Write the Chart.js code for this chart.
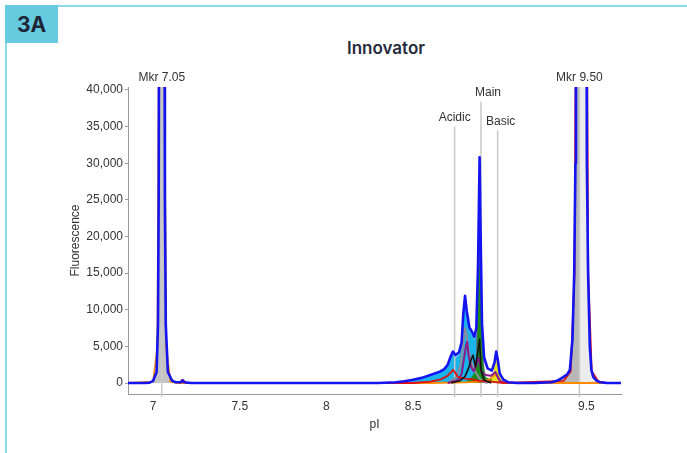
<!DOCTYPE html>
<html>
<head>
<meta charset="utf-8">
<script src="https://cdn.jsdelivr.net/npm/chart.js@4.4.0/dist/chart.umd.min.js"></script>
<style>
  html, body { margin: 0; padding: 0; background: #fff; }
  #wrap { position: relative; width: 687px; height: 453px; overflow: hidden; }
  #badge {
    position: absolute; left: 5px; top: 5px; width: 53px; height: 38px;
    background: #67cbe0; color: #1e2536; font: 700 21px Inter, sans-serif;
    display: flex; align-items: center; justify-content: center;
  }
  #topLine { position: absolute; left: 58px; top: 5px; right: 0; height: 2px; background: #8cd9ea; }
  #leftLine { position: absolute; left: 5px; top: 43px; width: 2px; bottom: 0; background: #8cd9ea; }
  #title {
    position: absolute; left: 286px; top: 37px; width: 200px; text-align: center;
    font: 600 17px Inter, sans-serif; color: #262b3d; line-height: 22px;
  }
  canvas { position: absolute; left: 0; top: 0; }
</style>
</head>
<body>
<div id="wrap">
  <div id="badge">3A</div>
  <div id="topLine"></div>
  <div id="leftLine"></div>
  <div id="title">Innovator</div>
  <canvas id="chart" width="687" height="453"></canvas>
</div>
<script>
// ==== Data ====
const xTicks = [7, 7.5, 8, 8.5, 9, 9.5];
const yTicks = [0, 5000, 10000, 15000, 20000, 25000, 30000, 35000, 40000];

// envelope trace (blue)
const blueX = [6.855, 6.90, 6.95, 6.98, 7.00, 7.02, 7.028, 7.032, 7.035, 7.065, 7.068, 7.073, 7.085, 7.11, 7.13,
  7.16, 7.17, 7.18, 7.22, 7.40, 7.70, 8.00, 8.30, 8.40, 8.45, 8.50, 8.55, 8.60, 8.65, 8.68, 8.70, 8.715, 8.73,
  8.745, 8.765, 8.78, 8.79, 8.80, 8.81, 8.825, 8.84, 8.853, 8.865, 8.875, 8.884, 8.89, 8.898, 8.91, 8.93, 8.955,
  8.97, 8.98, 8.99, 9.00, 9.02, 9.05, 9.10, 9.20, 9.30, 9.33, 9.36, 9.39, 9.405, 9.42, 9.43, 9.437, 9.44, 9.46,
  9.50, 9.503, 9.51, 9.52, 9.529, 9.54, 9.56, 9.58, 9.62, 9.70];
const blueY = [0, 0, 0, 50, 300, 1500, 8000, 25000, 60000, 60000, 25000, 8000, 1500, 300, 100,
  100, 350, 100, 0, 0, 0, 0, 0, 100, 250, 450, 700, 1100, 1500, 1900, 2500, 3500, 4300,
  3800, 4200, 5500, 9500, 11900, 9800, 7600, 7000, 6300, 7500, 16000, 30800, 20000, 8000, 3500, 2000, 1700,
  2800, 4300, 3000, 1300, 500, 100, 0, 0, 100, 300, 700, 1200, 1800, 6000, 15000, 30000, 60000, 60000,
  60000, 30000, 15000, 5000, 1800, 800, 300, 100, 0, 0];

const cyanX = [8.40, 8.45, 8.50, 8.55, 8.60, 8.65, 8.68, 8.70, 8.715, 8.73, 8.745, 8.765, 8.78, 8.79, 8.80, 8.81,
  8.825, 8.84, 8.853, 8.865, 8.875, 8.89, 8.91, 8.93];
const cyanY = [0, 150, 350, 550, 900, 1300, 1700, 2200, 3100, 3900, 3400, 3800, 5000, 8800, 11200, 9200,
  7100, 6500, 5800, 6500, 5000, 2000, 500, 0];

const slateX = [8.855, 8.865, 8.875, 8.884, 8.89, 8.898, 8.91, 8.925];
const slateY = [0, 3000, 15000, 30000, 19000, 7000, 1500, 0];

const greenX = [8.80, 8.84, 8.86, 8.872, 8.88, 8.886, 8.892, 8.90, 8.915, 8.94, 8.97, 8.985, 9.00, 9.03];
const greenY = [0, 800, 1500, 5000, 12000, 16000, 12000, 3000, 800, 500, 500, 900, 300, 0];

const grayX = [8.70, 8.75, 8.775, 8.79, 8.80, 8.81, 8.82, 8.835, 8.86, 8.88, 8.90, 8.93];
const grayY = [0, 800, 2500, 5500, 7500, 6500, 4500, 3000, 1500, 700, 200, 0];

const purpleX = [8.70, 8.76, 8.78, 8.795, 8.805, 8.812, 8.82, 8.835, 8.85, 8.865, 8.875, 8.885, 8.895, 8.92,
  8.95, 8.975, 8.985, 9.00, 9.03];
const purpleY = [0, 400, 1200, 3500, 5000, 5600, 3800, 2200, 1600, 2400, 3500, 2800, 1500, 1100,
  1000, 1500, 1000, 300, 0];

const blackX = [8.72, 8.77, 8.80, 8.82, 8.835, 8.846, 8.86, 8.875, 8.884, 8.892, 8.91, 8.95];
const blackY = [0, 300, 900, 2000, 3200, 3800, 2200, 4500, 6000, 1800, 400, 0];

const redX = [7.15, 7.17, 7.19, 8.50, 8.60, 8.66, 8.70, 8.72, 8.73, 8.74, 8.76, 8.80, 8.84, 8.88, 8.95, 9.02,
  9.37, 9.41, 9.432, 9.441, 9.501, 9.511, 9.531, 9.57, 9.62];
const redY = [0, 450, 0, 0, 200, 500, 1000, 1500, 1800, 1500, 800, 600, 500, 300, 200, 0,
  300, 1600, 15000, 60000, 60000, 15000, 1600, 200, 0];

const orangeX = [6.855, 7.00, 7.025, 7.036, 7.062, 7.075, 7.10, 7.14, 8.60, 8.80, 8.90, 8.94, 8.965, 8.98,
  8.99, 9.01, 9.05, 9.70];
const orangeY = [0, 200, 5000, 60000, 60000, 5000, 200, 0, 0, 100, 200, 500, 1000, 1100,
  700, 200, 0, 0];

const yellowX = [8.95, 8.965, 8.975, 8.982, 8.988, 8.995, 9.005, 9.02];
const yellowY = [0, 1000, 2600, 3600, 3000, 1500, 400, 0];

// marker / region lines
const markerPI = [7.05, 8.74, 8.892, 8.988, 9.46];
const markerLabel = ["Mkr 7.05", "Acidic", "Main", "Basic", "Mkr 9.50"];
const markerTop = [40400, 35000, 38400, 34500, 40400];

// ==== Helpers ====
const pts = (xs, ys) => xs.map((x, i) => ({ x, y: ys[i] }));
const bluePts = pts(blueX, blueY);
const labelShift = [0, 0, 7, 3, 0]; // px nudge so Main/Basic don't crowd

function line(data, color, width) {
  return { data, borderColor: color, borderWidth: width, fill: false, pointRadius: 0 };
}
function area(data, color) {
  return { data, borderColor: color, backgroundColor: color, borderWidth: 1, fill: "origin", pointRadius: 0 };
}

const datasets = [
  line(bluePts, "#1414f0", 2.6),
  line(pts(blackX, blackY), "#111111", 1.6),
  line(pts(redX, redY), "#e01010", 1.8),
  line(pts(purpleX, purpleY), "#8a1a8a", 2),
  line(pts(grayX, grayY), "#8c8c9c", 2),
  line(pts(orangeX, orangeY), "#ff8c00", 1.8),
  area(pts(yellowX, yellowY), "#e2e21e"),
  area(pts(greenX, greenY), "#198c19"),
  area(pts(slateX, slateY), "#6c62a8"),
  area(pts(cyanX, cyanY), "#19b5ea"),
  area(bluePts.filter((p) => p.x >= 9.46 && p.x <= 9.56), "#ececec"),
  area(bluePts.filter((p) => p.x >= 9.33 && p.x <= 9.46), "#b7b7b7"),
  area(bluePts.filter((p) => p.x >= 6.98 && p.x <= 7.13), "#c3c3c3")
];
const SLATE_INDEX = 8;

// ==== Marker lines & labels ====
const markers = {
  id: "markers",
  afterDatasetDraw(chart, args) {
    if (args.index !== SLATE_INDEX) return;
    const { ctx, chartArea, scales } = chart;
    ctx.save();
    ctx.strokeStyle = "#c9c9c9";
    ctx.lineWidth = 1.5;
    markerPI.forEach((v, i) => {
      const x = scales.x.getPixelForValue(v);
      ctx.beginPath();
      ctx.moveTo(x, chartArea.bottom + 3);
      ctx.lineTo(x, scales.y.getPixelForValue(markerTop[i]));
      ctx.stroke();
    });
    ctx.restore();
  },
  afterDraw(chart) {
    const { ctx, scales } = chart;
    ctx.save();
    ctx.fillStyle = "#333";
    ctx.font = "12px 'Liberation Sans', Arial, sans-serif";
    ctx.textAlign = "center";
    ctx.textBaseline = "bottom";
    markerPI.forEach((v, i) => {
      const x = scales.x.getPixelForValue(v) + labelShift[i];
      const y = scales.y.getPixelForValue(markerTop[i]) - 3;
      ctx.fillText(markerLabel[i], x, y);
    });
    ctx.restore();
  }
};

// ==== Chart ====
const tickFont = { family: "'Liberation Sans', Arial, sans-serif", size: 12 };

new Chart(document.getElementById("chart"), {
  type: "line",
  data: { datasets },
  options: {
    responsive: false,
    animation: false,
    devicePixelRatio: 1,
    layout: { padding: { left: 64, top: 87, right: 66, bottom: 17 } },
    elements: { line: { tension: 0, borderJoinStyle: "round" } },
    plugins: { legend: { display: false }, tooltip: { enabled: false } },
    scales: {
      x: {
        type: "linear",
        min: 6.855,
        max: 9.70,
        afterBuildTicks: (s) => { s.ticks = xTicks.map((v) => ({ value: v })); },
        afterFit: (s) => { s.height = 42; },
        ticks: { color: "#333", font: tickFont, padding: 5, maxRotation: 0, callback: (v) => String(v) },
        grid: { display: true, drawOnChartArea: false, drawTicks: false },
        border: { display: true, color: "#9a9a9a", width: 1 },
        title: { display: true, text: "pI", color: "#333", font: tickFont, padding: { top: 4, bottom: 4 } }
      },
      y: {
        min: -1500,
        max: 40400,
        afterBuildTicks: (s) => { s.ticks = yTicks.map((v) => ({ value: v })); },
        afterFit: (s) => { s.width = 64; },
        ticks: { color: "#333", font: tickFont, padding: 2, callback: (v) => v.toLocaleString("en-US") },
        grid: { display: true, drawOnChartArea: false, drawTicks: true, tickLength: 3, color: "#9a9a9a" },
        border: { display: true, color: "#9a9a9a", width: 1 },
        title: { display: true, text: "Fluorescence", color: "#333", font: tickFont, padding: { top: 4, bottom: 4 } }
      }
    }
  },
  plugins: [markers]
});
</script>
</body>
</html>
